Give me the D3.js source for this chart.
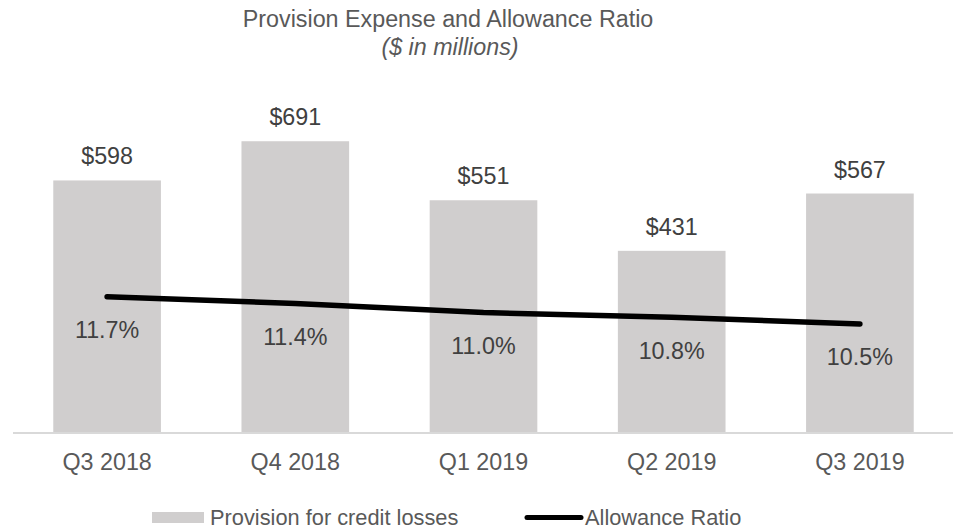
<!DOCTYPE html>
<html>
<head>
<meta charset="utf-8">
<script src="https://cdn.jsdelivr.net/npm/d3@7"></script>
<style>
  html, body { margin: 0; padding: 0; background: #fff; }
  svg { display: block; font-family: "Liberation Sans", Arial, sans-serif; }
</style>
</head>
<body>
<svg id="chart" width="953" height="529"></svg>
<script>
// Quarterly provision expense ($M) and allowance ratio (%)
const quarters = ["Q3 2018", "Q4 2018", "Q1 2019", "Q2 2019", "Q3 2019"];
const provision = [598, 691, 551, 431, 567];
const allowanceRatio = [11.7, 11.4, 11.0, 10.8, 10.5];

const svg = d3.select("#chart");
const plot = { left: 13, right: 954, top: 95.3, bottom: 432.5 };
const fontSize = 23.3;

const x = d3.scaleBand()
  .domain(quarters)
  .range([plot.left, plot.right])
  .paddingInner(0.428)
  .paddingOuter(0.214);

const y = d3.scaleLinear().domain([0, 800]).range([plot.bottom, plot.top]);
const y2 = d3.scaleLinear().domain([5.73, 20.55]).range([plot.bottom, plot.top]);

// Title
svg.append("text")
  .attr("x", 448).attr("y", 26.5)
  .attr("text-anchor", "middle")
  .attr("fill", "#595959")
  .style("font-size", fontSize + "px")
  .text("Provision Expense and Allowance Ratio");
svg.append("text")
  .attr("x", 450).attr("y", 55)
  .attr("text-anchor", "middle")
  .attr("fill", "#595959")
  .style("font-size", fontSize + "px")
  .style("font-style", "italic")
  .text("($ in millions)");

// Bars
svg.append("g").selectAll("rect")
  .data(quarters)
  .join("rect")
  .attr("x", d => x(d))
  .attr("width", x.bandwidth())
  .attr("y", (d, i) => y(provision[i]))
  .attr("height", (d, i) => y(0) - y(provision[i]))
  .attr("fill", "#d0cece");

// Bar value labels
svg.append("g").selectAll("text")
  .data(quarters)
  .join("text")
  .attr("x", d => x(d) + x.bandwidth() / 2)
  .attr("y", (d, i) => y(provision[i]) - 16)
  .attr("text-anchor", "middle")
  .attr("fill", "#404040")
  .style("font-size", fontSize + "px")
  .text((d, i) => "$" + provision[i]);

// Category axis
const xAxis = d3.axisBottom(x).tickSize(0).tickPadding(0);
const gx = svg.append("g").attr("transform", `translate(0,${plot.bottom})`).call(xAxis);
gx.select(".domain").remove();
gx.selectAll("text")
  .attr("dy", null)
  .attr("y", 37.5)
  .attr("fill", "#595959")
  .style("font-size", fontSize + "px")
  .style("font-family", "'Liberation Sans', Arial, sans-serif");
svg.append("line")
  .attr("x1", plot.left).attr("x2", 953)
  .attr("y1", plot.bottom + 0.5).attr("y2", plot.bottom + 0.5)
  .attr("stroke", "#d9d9d9").attr("stroke-width", 2);

// Allowance ratio line
const line = d3.line()
  .x((d, i) => x(quarters[i]) + x.bandwidth() / 2)
  .y(d => y2(d));
svg.append("path")
  .datum(allowanceRatio)
  .attr("d", line)
  .attr("fill", "none")
  .attr("stroke", "#000")
  .attr("stroke-width", 5.5)
  .attr("stroke-linecap", "round")
  .attr("stroke-linejoin", "round");

// Ratio labels
svg.append("g").selectAll("text")
  .data(allowanceRatio)
  .join("text")
  .attr("x", (d, i) => x(quarters[i]) + x.bandwidth() / 2)
  .attr("y", d => y2(d) + 41.5)
  .attr("text-anchor", "middle")
  .attr("fill", "#404040")
  .style("font-size", fontSize + "px")
  .text(d => d.toFixed(1) + "%");

// Legend
const legendFont = 21.8;
const legend = svg.append("g");
legend.append("rect")
  .attr("x", 152).attr("y", 512).attr("width", 52).attr("height", 11)
  .attr("fill", "#d0cece");
legend.append("text")
  .attr("x", 210).attr("y", 525)
  .attr("fill", "#595959")
  .style("font-size", legendFont + "px")
  .text("Provision for credit losses");
legend.append("line")
  .attr("x1", 527).attr("x2", 581)
  .attr("y1", 517.5).attr("y2", 517.5)
  .attr("stroke", "#000").attr("stroke-width", 5)
  .attr("stroke-linecap", "round");
legend.append("text")
  .attr("x", 585).attr("y", 525)
  .attr("fill", "#595959")
  .style("font-size", legendFont + "px")
  .text("Allowance Ratio");
</script>
</body>
</html>
